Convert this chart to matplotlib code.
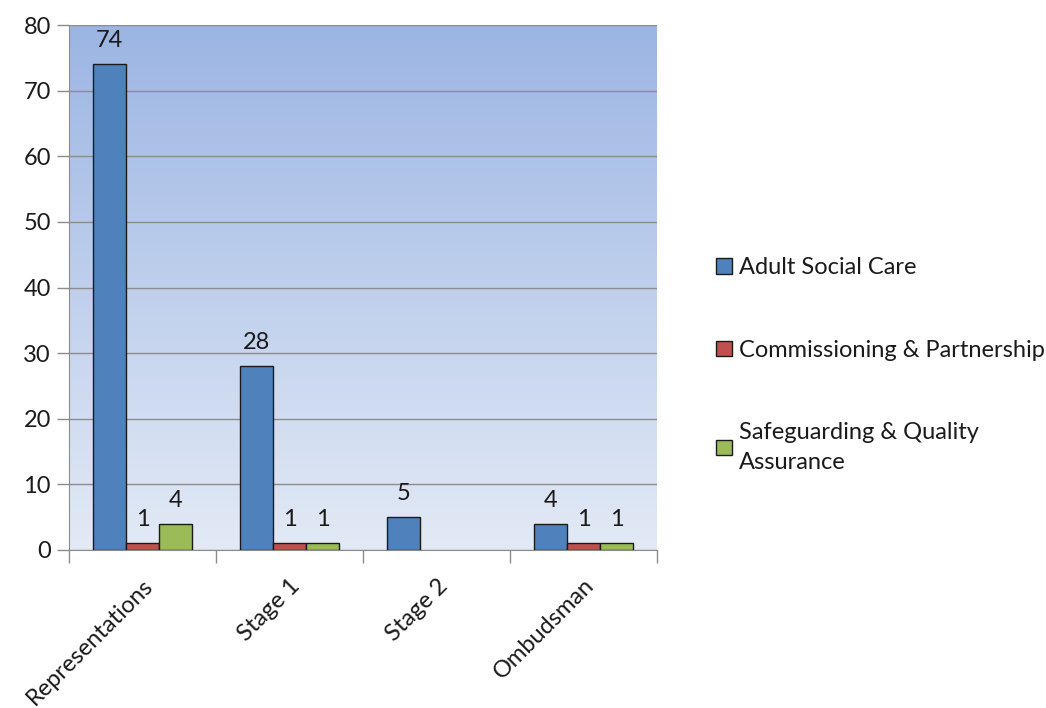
import numpy as np
import matplotlib.pyplot as plt
from matplotlib.colors import LinearSegmentedColormap

# --- DATA ---
categories = ['Representations', 'Stage 1', 'Stage 2', 'Ombudsman']
series_names = ['Adult Social Care', 'Commissioning & Partnership',
                'Safeguarding & Quality\nAssurance']
adult_social = [74, 28, 5, 4]
commissioning = [1, 1, 0, 1]
safeguarding = [4, 1, 0, 1]
yticks = [0, 10, 20, 30, 40, 50, 60, 70, 80]

colors = ['#4F81BD', '#C0504D', '#9BBB59']
values = [adult_social, commissioning, safeguarding]

plt.rcParams['font.family'] = ['Lato', 'DejaVu Sans']

fig = plt.figure(figsize=(10.46, 7.08), dpi=100)
ax = fig.add_axes([69 / 1046, 1 - 550 / 708, 588 / 1046, 525 / 708])

# gradient background
grad = LinearSegmentedColormap.from_list('bg', ['#E3EAF6', '#9BB5E3'])
ax.imshow(np.linspace(0, 1, 256).reshape(-1, 1), cmap=grad, origin='lower',
          extent=[-0.5, 3.5, 0, 80], aspect='auto', zorder=0)

x = np.arange(len(categories))
w = 0.225
for i, (vals, c, name) in enumerate(zip(values, colors, series_names)):
    pos = x + (i - 1) * w
    vals = np.array(vals)
    mask = vals > 0
    bars = ax.bar(pos[mask], vals[mask], w, color=c, edgecolor='#1a1a1a',
                  lw=1.0, zorder=3, label=name)
    for b, v in zip(bars, vals[mask]):
        ax.text(b.get_x() + w / 2, v + 2.0, str(v), ha='center', va='bottom',
                fontsize=17, color='#1a1a1a', zorder=4)

ax.set_xlim(-0.5, 3.5)
ax.set_ylim(0, 80)
ax.set_yticks(yticks)
ax.yaxis.grid(True, color='#8c8c8c', lw=1)
ax.set_axisbelow(True)
ax.tick_params(axis='y', labelsize=17, length=9, color='#8c8c8c', width=1,
               labelcolor='#1a1a1a', pad=4)

ax.set_xticks(np.arange(-0.5, 4, 1))
ax.set_xticklabels([])
ax.set_xticks(x, minor=True)
ax.set_xticklabels(categories, minor=True, rotation=45, ha='right',
                   rotation_mode='anchor', fontsize=17, color='#1a1a1a')
ax.tick_params(axis='x', which='major', length=9, color='#8c8c8c', width=1)
ax.tick_params(axis='x', which='minor', length=0, pad=18)

for s in ['top', 'right']:
    ax.spines[s].set_visible(False)
for s in ['left', 'bottom']:
    ax.spines[s].set_color('#8c8c8c')

leg = fig.legend(loc='center left', bbox_to_anchor=(695 / 1046, 1 - 365 / 708),
                 frameon=False, fontsize=17, labelspacing=2.6, handlelength=0.65,
                 handleheight=0.65, handletextpad=0.3, labelcolor='#1a1a1a')
for t in leg.get_texts():
    t.set_linespacing(1.5)

plt.savefig('out.png', dpi=100)
